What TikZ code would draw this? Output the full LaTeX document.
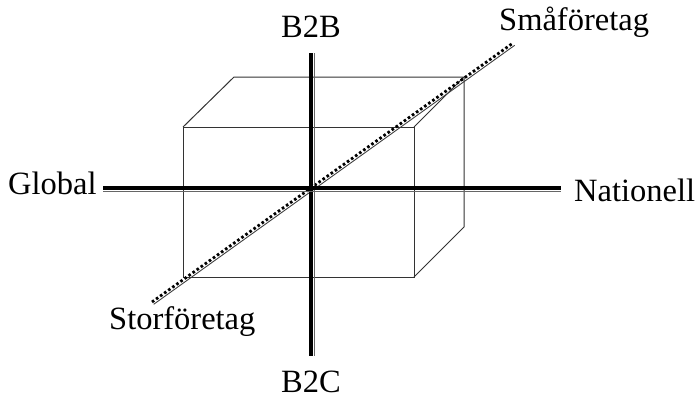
\documentclass[tikz,border=0pt]{standalone}
\usepackage{fontspec}
\setmainfont{Liberation Serif}
\begin{document}
\begin{tikzpicture}[x=1pt,y=-1pt,
  lbl/.style={inner sep=0pt,font=\fontsize{32.5}{38}\selectfont},
  boxline/.style={line width=1pt,draw=black!80},
  thickax/.style={line width=4.3pt},
  thinax/.style={line width=0.9pt,draw=black!60},
  dotline/.style={line width=2.8pt,line cap=butt,dash pattern=on 2.6pt off 2.4pt},
  thindiag/.style={line width=0.9pt,draw=black!75}]
\useasboundingbox (0,0) rectangle (699,405);
% box corners
\coordinate (ftl) at (183,127);
\coordinate (ftr) at (414,127);
\coordinate (fbr) at (414,277);
\coordinate (fbl) at (183,277);
\coordinate (btl) at (234,77);
\coordinate (btr) at (464,77);
\coordinate (bbr) at (464,227);
\draw[boxline] (ftl) -- (ftr) -- (fbr) -- (fbl) -- cycle;
\draw[boxline] (ftl) -- (btl) -- (btr) -- (ftr);
\draw[boxline] (btr) -- (bbr) -- (fbr);
% labels
\node[lbl] (b2b) at (311,27) {B2B};
\node[lbl] (b2c) at (311,382) {B2C};
\node[lbl,anchor=west] (glob) at (8,183) {Global};
\node[lbl,anchor=west] (nat) at (574,190) {Nationell};
\node[lbl,anchor=west] (small) at (499,22) {Småföretag};
\node[lbl,anchor=west] (large) at (109,322) {Storföretag};
% axis ends
\coordinate (vt) at (311,53);
\coordinate (vb) at (311,356);
\coordinate (hl) at (103,188);
\coordinate (hr) at (561,188);
\coordinate (dl) at (152,302);
\coordinate (dr) at (513,43);
% diagonal
\draw[thindiag] ([shift={(1.7,2.3)}]dl) -- ([shift={(1.7,2.3)}]dr);
\draw[dotline] (dl) -- (dr);
% vertical axis
\draw[thickax] (vt) -- (vb);
\draw[thinax] ([xshift=3.4pt]vt) -- ([xshift=3.4pt]vb);
% horizontal axis
\draw[thickax] (hl) -- (hr);
\draw[thinax] ([yshift=-3.2pt]hl) -- ([yshift=-3.2pt]hr);
\end{tikzpicture}
\end{document}
